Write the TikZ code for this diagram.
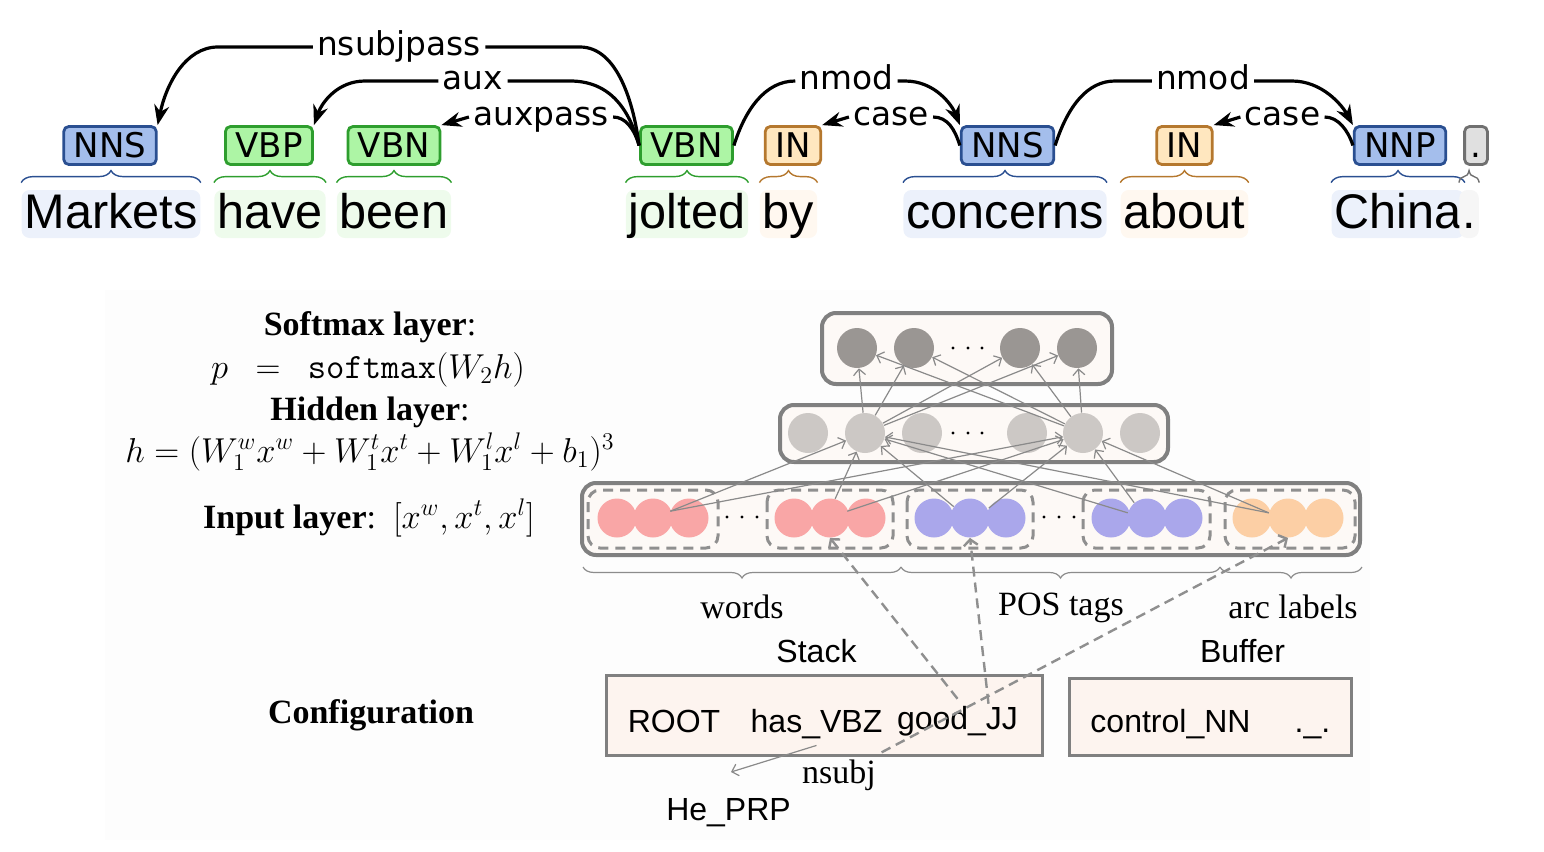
\documentclass[tikz,border=0pt]{standalone}
\usepackage{amsmath}
\usepackage{fontspec}
\setmainfont{Liberation Serif}
\newfontfamily\tagfont{DejaVu Sans}
\newfontfamily\wordfont{Liberation Sans}
\usetikzlibrary{arrows.meta,decorations.pathreplacing,calc}

\definecolor{nnfill}{HTML}{A4BEEC}
\definecolor{nndraw}{HTML}{2A4F91}
\definecolor{nnlight}{HTML}{ECF1FB}
\definecolor{vbfill}{HTML}{ADF5A5}
\definecolor{vbdraw}{HTML}{2E9E2E}
\definecolor{vblight}{HTML}{EEFBEC}
\definecolor{infill}{HTML}{FFE7BF}
\definecolor{indraw}{HTML}{B5782E}
\definecolor{inlight}{HTML}{FFF8F0}
\definecolor{dotfill}{HTML}{E0E0E0}
\definecolor{dotdraw}{HTML}{707070}
\definecolor{dotlight}{HTML}{F6F6F6}
\definecolor{boxgray}{HTML}{808080}
\definecolor{boxfill}{HTML}{FDF9F6}
\definecolor{cfgfill}{HTML}{FDF4EF}
\definecolor{dashgray}{HTML}{8F8F8F}
\definecolor{feedgray}{HTML}{8A8A8A}
\definecolor{smcol}{HTML}{9A9693}
\definecolor{hdcol}{HTML}{CCC8C5}
\definecolor{wdcol}{HTML}{F9A6A6}
\definecolor{pscol}{HTML}{AAA7EB}
\definecolor{lbcol}{HTML}{FCCFA5}

\begin{document}
\begin{tikzpicture}[x=0.5pt,y=-0.5pt,
	tag/.style={draw,line width=1.4pt,rounded corners=2.5pt,inner xsep=5pt,inner ysep=0pt,minimum height=19pt,text height=12.4pt,text depth=0pt,font=\tagfont\fontsize{17}{17}\selectfont},
	nntag/.style={tag,fill=nnfill,draw=nndraw},
	vbtag/.style={tag,fill=vbfill,draw=vbdraw},
	intag/.style={tag,fill=infill,draw=indraw},
	dottag/.style={tag,fill=dotfill,draw=dotdraw,inner xsep=3pt},
	word/.style={anchor=base,rounded corners=4pt,inner xsep=1.5pt,inner ysep=0pt,text height=19pt,text depth=5pt,font=\wordfont\fontsize{24.3}{24}\selectfont},
	arclab/.style={inner xsep=2pt,inner ysep=0pt,text height=12.5pt,text depth=3.9pt,font=\tagfont\fontsize{16.4}{16}\selectfont},
	arc/.style={line width=1.6pt},
	dep/.style={arc,-{Stealth[length=10pt,width=7.5pt]}},
	wbrace/.style={decorate,decoration={brace,amplitude=6pt},line width=0.7pt},
	laybox/.style={draw=boxgray,fill=boxfill,line width=2pt,rounded corners=7pt},
	grp/.style={draw=dashgray,line width=1.5pt,dash pattern=on 5pt off 3.5pt,rounded corners=6pt},
	smc/.style={circle,fill=smcol,minimum size=20pt,inner sep=0pt},
	hdc/.style={circle,fill=hdcol,minimum size=20pt,inner sep=0pt},
	wdc/.style={circle,fill=wdcol,minimum size=19.5pt,inner sep=0pt},
	psc/.style={circle,fill=pscol,minimum size=19.5pt,inner sep=0pt},
	lbc/.style={circle,fill=lbcol,minimum size=19.5pt,inner sep=0pt},
	feed/.style={draw=feedgray,line width=0.6pt,-{Straight Barb[length=3pt,width=6pt]}},
	ibrace/.style={decorate,decoration={brace,amplitude=5.5pt,mirror},draw=black!45,line width=0.6pt},
	cfgline/.style={draw=dashgray,line width=1.2pt,dash pattern=on 5pt off 3pt,-{Straight Barb[length=3pt,width=7pt]}},
	serif/.style={anchor=base,font=\fontsize{17}{20}\selectfont},
	eqn/.style={anchor=base,font=\fontsize{17.8}{20}\selectfont},
	sans/.style={anchor=base,font=\wordfont\fontsize{16}{19}\selectfont}]
	\useasboundingbox (0,0) rectangle (1544,852);
	\fill[black!0.8] (105,290) rectangle (1370,840);

	\node[word,fill=nnlight] (w1) at (111,228) {Markets};
	\node[word,fill=vblight] (w2) at (270,228) {have};
	\node[word,fill=vblight] (w3) at (394,228) {been};
	\node[word,fill=vblight] (w4) at (687,228) {jolted};
	\node[word,fill=inlight] (w5) at (788.5,228) {by};
	\node[word,fill=nnlight] (w6) at (1005,228) {concerns};
	\node[word,fill=inlight] (w7) at (1184.5,228) {about};
	\node[word,fill=nnlight] (w8) at (1398,228) {China};
	\node[word,fill=dotlight,anchor=base west] (w9) at ($(w8.base east)+(-6,0)$) {.};

	\node[nntag] (t1) at (110,145.5) {NNS};
	\node[vbtag] (t2) at (269,145.5) {VBP};
	\node[vbtag] (t3) at (394,145.5) {VBN};
	\node[vbtag] (t4) at (686.5,145.5) {VBN};
	\node[intag] (t5) at (793,145.5) {IN};
	\node[nntag] (t6) at (1007.5,145.5) {NNS};
	\node[intag] (t7) at (1184.5,145.5) {IN};
	\node[nntag] (t8) at (1400,145.5) {NNP};
	\node[dottag] (t9) at (1476,145.5) {.};

	\draw[wbrace,nndraw] ($(w1.north west)+(0,-7)$) -- ($(w1.north east)+(0,-7)$);
	\draw[wbrace,vbdraw] ($(w2.north west)+(0,-7)$) -- ($(w2.north east)+(0,-7)$);
	\draw[wbrace,vbdraw] ($(w3.north west)+(0,-7)$) -- ($(w3.north east)+(0,-7)$);
	\draw[wbrace,vbdraw] ($(w4.north west)+(0,-7)$) -- ($(w4.north east)+(0,-7)$);
	\draw[wbrace,indraw] ($(w5.north west)+(0,-7)$) -- ($(w5.north east)+(0,-7)$);
	\draw[wbrace,nndraw] ($(w6.north west)+(0,-7)$) -- ($(w6.north east)+(0,-7)$);
	\draw[wbrace,indraw] ($(w7.north west)+(0,-7)$) -- ($(w7.north east)+(0,-7)$);
	\draw[wbrace,nndraw] ($(w8.north west)+(0,-7)$) -- ($(w8.north east)+(0,-7)$);
	\draw[wbrace,dotdraw] ($(w9.north west)+(0,-7)$) -- ($(w9.north east)+(0,-7)$);

	\node[arclab] (l1) at (399,47) {nsubjpass};
	\node[arclab] (l2) at (473,81) {aux};
	\node[arclab] (l3) at (541,117) {auxpass};
	\node[arclab] (l4) at (846.5,81) {nmod};
	\node[arclab] (l5) at (891,117) {case};
	\node[arclab] (l6) at (1203,81) {nmod};
	\node[arclab] (l7) at (1282.5,117) {case};

	\draw[arc] (l1.east) -- (580,47) .. controls (618,47) and (634,105) .. (t4.west);
	\draw[dep] (l1.west) -- (218,47) .. controls (185,47) and (166,85) .. (t1.north east);
	\draw[arc] (l2.east) -- (570,81) .. controls (612,81) and (630,112) .. (t4.west);
	\draw[dep] (l2.west) -- (365,81) .. controls (338,81) and (322,102) .. (t2.north east);
	\draw[arc] (l3.east) .. controls (625,117) and (634,128) .. (t4.west);
	\draw[dep] (l3.west) -- (t3.north east);
	\draw[arc] (t4.east) .. controls (745,110) and (765,81) .. (l4.west);
	\draw[dep] (l4.east) -- (905,81) .. controls (935,81) and (952,105) .. (t6.north west);
	\draw[dep] (l5.west) -- (t5.north east);
	\draw[arc] (l5.east) .. controls (948,117) and (955,130) .. (t6.west);
	\draw[arc] (t6.east) .. controls (1068,105) and (1088,81) .. (1115,81) -- (l6.west);
	\draw[dep] (l6.east) -- (1292,81) .. controls (1322,81) and (1342,105) .. (t8.north west);
	\draw[dep] (l7.west) -- (t7.north east);
	\draw[arc] (l7.east) .. controls (1338,117) and (1348,130) .. (t8.west);

	\node[serif] (smxlab) at (370,335) {\textbf{Softmax layer}:};
	\node[eqn] (smxeq) at (368,378) {$p \enspace = \enspace \texttt{softmax}(W_2h)$};
	\node[serif] (hidlab) at (370,420) {\textbf{Hidden layer}:};
	\node[eqn] (hideq) at (370,462) {$h=(W_1^wx^w+W_1^tx^t+W_1^lx^l+b_1)^3$};
	\node[serif] (inlab) at (369,528) {\textbf{Input layer}:\ \ $[x^w,x^t,x^l]$};
	\node[serif] (cfglab) at (371,723) {\textbf{Configuration}};

	\draw[laybox] (822,313) rectangle (1112,384);
	\draw[laybox] (780,405) rectangle (1168,462);
	\draw[laybox] (582,483) rectangle (1360,555);
	\draw[grp] (588,490) rectangle (718,548);
	\draw[grp] (767,490) rectangle (893,548);
	\draw[grp] (907,490) rectangle (1033,548);
	\draw[grp] (1083,490) rectangle (1210,548);
	\draw[grp] (1225,490) rectangle (1355,548);

	\node[smc] (s1) at (857,348) {}; \node[smc] (s2) at (914,348) {}; \node[smc] (s3) at (1020,348) {}; \node[smc] (s4) at (1077,348) {};
	\node[hdc] (h1) at (808,433) {}; \node[hdc] (h2) at (865,433) {}; \node[hdc] (h3) at (922,433) {};
	\node[hdc] (h4) at (1027,433) {}; \node[hdc] (h5) at (1083,433) {}; \node[hdc] (h6) at (1140,433) {};
	\node[wdc] (g1c1) at (617,518) {}; \node[wdc] (g1c2) at (653,518) {}; \node[wdc] (g1c3) at (689,518) {};
	\node[wdc] (g2c1) at (794,518) {}; \node[wdc] (g2c2) at (830,518) {}; \node[wdc] (g2c3) at (866,518) {};
	\node[psc] (g3c1) at (934,518) {}; \node[psc] (g3c2) at (970,518) {}; \node[psc] (g3c3) at (1006,518) {};
	\node[psc] (g4c1) at (1111,518) {}; \node[psc] (g4c2) at (1147,518) {}; \node[psc] (g4c3) at (1183,518) {};
	\node[lbc] (g5c1) at (1252,518) {}; \node[lbc] (g5c2) at (1288,518) {}; \node[lbc] (g5c3) at (1324,518) {};
	\fill (953,348) circle[radius=1.6] (968,348) circle[radius=1.6] (982,348) circle[radius=1.6];
	\fill (953,433) circle[radius=1.6] (968,433) circle[radius=1.6] (982,433) circle[radius=1.6];
	\fill (727,517) circle[radius=1.6] (742,517) circle[radius=1.6] (757,517) circle[radius=1.6];
	\fill (1044,517) circle[radius=1.6] (1059,517) circle[radius=1.6] (1074,517) circle[radius=1.6];

	\draw[feed] (h2) -- (s1); \draw[feed] (h2) -- (s2); \draw[feed] (h2) -- (s3); \draw[feed] (h2) -- (s4);
	\draw[feed] (h5) -- (s1); \draw[feed] (h5) -- (s2); \draw[feed] (h5) -- (s3); \draw[feed] (h5) -- (s4);
	\draw[feed] (g1c3.160) -- (h2); \draw[feed] (g2c2.75) -- (h2); \draw[feed] (g3c2.145) -- (h2);
	\draw[feed] (g4c2.165) -- (h2); \draw[feed] (g5c2.165) -- (h2);
	\draw[feed] (g1c3.160) -- (h5); \draw[feed] (g2c3.160) -- (h5); \draw[feed] (g3c3.150) -- (h5);
	\draw[feed] (g4c2.130) -- (h5); \draw[feed] (g5c2.165) -- (h5);

	\draw[ibrace] (583,567) -- (901,567);
	\draw[ibrace] (901,567) -- (1220,567);
	\draw[ibrace] (1220,567) -- (1362,567);
	\node[serif] (wordslab) at (742,618) {words};
	\node[serif] (poslab) at (1061,615) {POS tags};
	\node[serif] (arclab) at (1293,618) {arc labels};

	\node[sans] (stacklab) at (816.5,662) {Stack};
	\node[sans] (buflab) at (1242.5,662) {Buffer};
	\draw[draw=boxgray,fill=cfgfill,line width=1.5pt] (606,675) rectangle (1042,755);
	\draw[draw=boxgray,fill=cfgfill,line width=1.5pt] (1069,678) rectangle (1351,755);
	\node[sans] (root) at (674,732) {ROOT};
	\node[sans] (hasvbz) at (816.5,732) {has\_VBZ};
	\node[sans] (goodjj) at (957.5,729) {good\_JJ};
	\node[sans] (ctrlnn) at (1170.5,732) {control\_NN};
	\node[sans] (more) at (1312.5,732) {.\_.};
	\node[sans] (heprp) at (728.5,820) {He\_PRP};
	\node[serif] (nsubj) at (839,783) {nsubj};
	\coordinate (nsubjtip) at (731,772);

	\draw[feedgray,line width=0.6pt,-{Straight Barb[length=3pt,width=6pt]}] (hasvbz.south) -- (nsubjtip);
	\draw[cfgline] (goodjj.north) -- (g2c2.south);
	\draw[cfgline] ($(goodjj.north)+(31,5)$) -- (g3c2.south);
	\draw[cfgline] (nsubj) -- (g5c2.south);
\end{tikzpicture}
\end{document}
